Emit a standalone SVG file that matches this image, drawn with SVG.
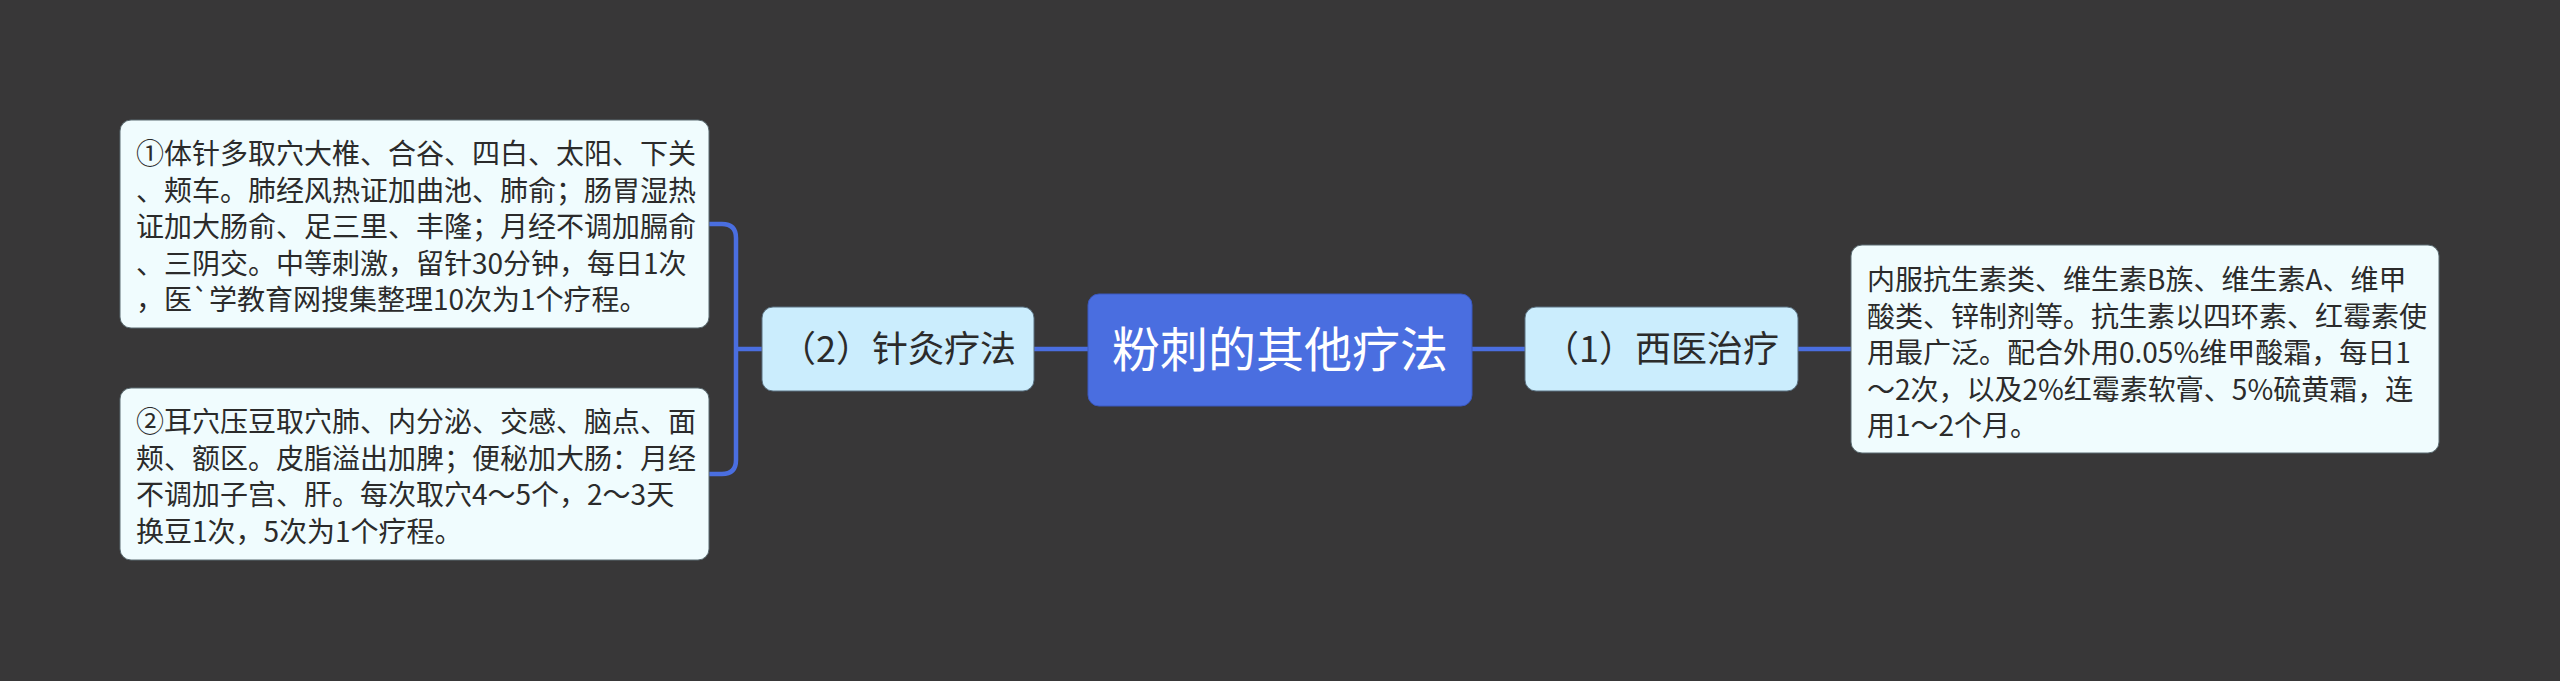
<svg xmlns="http://www.w3.org/2000/svg" width="2560" height="681" viewBox="0 0 2560 681">
<style>
.leaf{fill:#f0fcfe;stroke:#5a6a70;stroke-width:1}
.mid{fill:#cbedfd;stroke:#5a7080;stroke-width:1}
.root{fill:#4a6ee0;stroke:#3a58c0;stroke-width:1}
.t{font-family:"Noto Sans CJK SC","Noto Sans",sans-serif;fill:#2b2b2b}
.lt{font-size:28px}
.mt{font-size:36px;text-anchor:middle}
.rt{font-size:48px;text-anchor:middle;fill:#ffffff}
.c{fill:none;stroke:#4a6ee0;stroke-width:4.5}
</style>
<rect x="0" y="0" width="2560" height="681" fill="#383738"/>
<g id="connectors">
<path class="c" d="M1088 349 H1034"/>
<path class="c" d="M1472 349 H1525"/>
<path class="c" d="M1798 349 H1851"/>
<path class="c" d="M762 349 H736"/>
<path class="c" d="M709 224 H722 Q736 224 736 238 V460 Q736 474 722 474 H709"/>
</g>
<g id="root">
<rect class="root" x="1088" y="294" width="384" height="112" rx="11"/>
<text class="t rt" x="1280" y="367">粉刺的其他疗法</text>
</g>
<g id="n2">
<rect class="mid" x="762" y="307" width="272" height="84" rx="11"/>
<text class="t mt" x="898" y="362">（2）针灸疗法</text>
</g>
<g id="n1">
<rect class="mid" x="1525" y="307" width="273" height="84" rx="11"/>
<text class="t mt" x="1661" y="362">（1）西医治疗</text>
</g>
<g id="leaf1">
<rect class="leaf" x="120" y="120" width="589" height="208" rx="11"/>
<text class="t lt" x="136" y="164">①体针多取穴大椎、合谷、四白、太阳、下关</text>
<text class="t lt" x="136" y="200.5">、颊车。肺经风热证加曲池、肺俞；肠胃湿热</text>
<text class="t lt" x="136" y="237">证加大肠俞、足三里、丰隆；月经不调加膈俞</text>
<text class="t lt" x="136" y="273.5">、三阴交。中等刺激，留针30分钟，每日1次</text>
<text class="t lt" x="136" y="310">，医`学教育网搜集整理10次为1个疗程。</text>
</g>
<g id="leaf2">
<rect class="leaf" x="120" y="388" width="589" height="172" rx="11"/>
<text class="t lt" x="136" y="432">②耳穴压豆取穴肺、内分泌、交感、脑点、面</text>
<text class="t lt" x="136" y="468.5">颊、额区。皮脂溢出加脾；便秘加大肠：月经</text>
<text class="t lt" x="136" y="505">不调加子宫、肝。每次取穴4～5个，2～3天</text>
<text class="t lt" x="136" y="541.5">换豆1次，5次为1个疗程。</text>
</g>
<g id="leaf3">
<rect class="leaf" x="1851" y="245" width="588" height="208" rx="11"/>
<text class="t lt" x="1867" y="290">内服抗生素类、维生素B族、维生素A、维甲</text>
<text class="t lt" x="1867" y="326.5">酸类、锌制剂等。抗生素以四环素、红霉素使</text>
<text class="t lt" x="1867" y="363">用最广泛。配合外用0.05%维甲酸霜，每日1</text>
<text class="t lt" x="1867" y="399.5">～2次，以及2%红霉素软膏、5%硫黄霜，连</text>
<text class="t lt" x="1867" y="436">用1～2个月。</text>
</g>
</svg>
